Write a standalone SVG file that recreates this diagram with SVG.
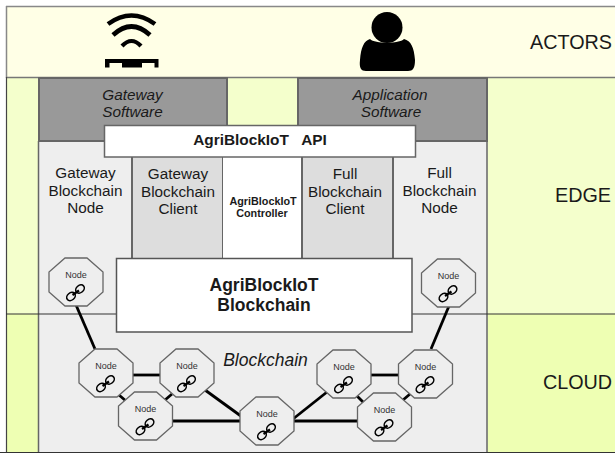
<svg xmlns="http://www.w3.org/2000/svg" width="615" height="453" viewBox="0 0 615 453">
<style>
text{font-family:"Liberation Sans",Arial,sans-serif;fill:#1a1a1a;text-anchor:middle}
.band{stroke:none}
.box{stroke:#666;stroke-width:2}
.oct{fill:#eee;stroke:#666;stroke-width:1.3}
.conn{stroke:#000;stroke-width:2.8;fill:none}
.lab{font-size:15.300px}
.it{font-size:15.300px;font-style:italic}
.side{font-size:19.800px}
.nt{font-size:9px;fill:#333}
.lk{fill:none;stroke:#000;stroke-width:1.600}
.ic{fill:#000;stroke:none}
.wf{fill:none;stroke:#000}
</style>
<defs>
<g id="n">
<polygon class="oct" points="16,0 38,0 54,14 54,34 38,48 16,48 0,34 0,14"/>
<g class="lk">
<ellipse cx="22" cy="38.500" rx="4.700" ry="3.600" transform="rotate(-40 22 38.500)"/>
<ellipse cx="31" cy="31" rx="4.700" ry="3.600" transform="rotate(-40 31 31)"/>
<path d="M23.500 37 L30 32.500" stroke-width="2.200"/>
</g>
</g>
</defs>
<rect width="615" height="453" fill="#fff"/>
<g id="bands">
<rect class="band" x="6" y="6" width="609" height="71" fill="#ffffe6"/>
<rect class="band" x="6" y="77" width="609" height="237" fill="#f4ffcc"/>
<rect class="band" x="6" y="314" width="609" height="138" fill="#eeffb3"/>
<path d="M6 6.500H615M6.500 6V78" stroke="#888" stroke-width="1.500" fill="none"/>
<path d="M6 77.500H615" stroke="#777" stroke-width="1.500"/>
<path d="M6.500 77V453" stroke="#444" stroke-width="1.200"/>
<text class="side" x="571" y="49">ACTORS</text>
<text class="side" x="583" y="202">EDGE</text>
<text class="side" x="577.500" y="389">CLOUD</text>
</g>
<g id="actor-gateway">
<g class="wf">
<path d="M108 24 Q131.500 7 155 24" stroke-width="4.600"/>
<path d="M113 35 Q131.500 18 150 35" stroke-width="4.600"/>
<path d="M122 46 Q131.500 36 141 46" stroke-width="4.200"/>
</g>
<path class="ic" d="M105 59H158.500V67.500H154.500V63H149V63H142V67.500H122V63H109.500V67.500H105Z"/>
</g>
<g id="actor-user">
<ellipse class="ic" cx="387" cy="27.500" rx="15.500" ry="15.500"/>
<path class="ic" d="M370 39C375 44 399 44 404 39C411 41 414 47 415 60C415 68 413 71 408 71H366C361 71 359 68 360 60C361 47 364 41 370 39Z"/>
</g>
<g id="edge-panel">
<rect x="38.500" y="141" width="449" height="311" fill="#eee"/>
<path d="M38.500 141V453M487 141V453" stroke="#666" stroke-width="1.500" fill="none"/>
<path d="M6 314H615" stroke="#333" stroke-width="1.200"/>
<path d="M0 452.500H615" stroke="#333" stroke-width="1.200"/>
<text class="lab" x="85.500" y="178">Gateway</text>
<text class="lab" x="85.500" y="196">Blockchain</text>
<text class="lab" x="85.500" y="213">Node</text>
<text class="lab" x="439.500" y="178">Full</text>
<text class="lab" x="439.500" y="196">Blockchain</text>
<text class="lab" x="439.500" y="213">Node</text>
<text class="it" x="265.500" y="366" style="font-size:17.500px">Blockchain</text>
</g>
<g id="gateway-software">
<rect class="box" x="39" y="78" width="188" height="63" fill="#999"/>
<text class="it" x="132.500" y="100">Gateway</text>
<text class="it" x="132.500" y="117">Software</text>
</g>
<g id="application-software">
<rect class="box" x="298" y="78" width="189" height="63" fill="#999"/>
<text class="it" x="390" y="100">Application</text>
<text class="it" x="391" y="117">Software</text>
</g>
<g id="gateway-client">
<rect class="box" x="132" y="156" width="91" height="103" fill="#ddd"/>
<text class="lab" x="178" y="179">Gateway</text>
<text class="lab" x="178" y="197">Blockchain</text>
<text class="lab" x="178" y="214">Client</text>
</g>
<g id="controller">
<rect x="223" y="156" width="79" height="103" fill="#fff"/>
<text x="263" y="205" font-size="10.800" font-weight="bold">AgriBlockIoT</text>
<text x="262" y="217" font-size="10.800" font-weight="bold">Controller</text>
</g>
<g id="full-client">
<rect class="box" x="302" y="156" width="91" height="103" fill="#ddd"/>
<text class="lab" x="345" y="179">Full</text>
<text class="lab" x="345" y="197">Blockchain</text>
<text class="lab" x="345" y="214">Client</text>
</g>
<g id="api">
<rect x="104.500" y="125.500" width="311" height="31.500" fill="#fff" stroke="#666" stroke-width="1.500"/>
<text x="260" y="145" font-size="15.400" font-weight="bold" xml:space="preserve" fill="#000">AgriBlockIoT   API</text>
</g>
<g id="blockchain">
<rect x="116.500" y="258.500" width="295.500" height="73.500" fill="#fff" stroke="#555" stroke-width="1.500"/>
<text x="264" y="291" font-size="17.500" font-weight="bold" fill="#000">AgriBlockIoT</text>
<text x="264" y="311" font-size="17.500" font-weight="bold" fill="#000">Blockchain</text>
</g>
<g id="connectors" class="conn">
<line x1="76" y1="305" x2="95" y2="349"/>
<line x1="130" y1="375" x2="162" y2="375"/>
<line x1="119" y1="395" x2="126" y2="401"/>
<line x1="172" y1="394" x2="165" y2="400"/>
<line x1="205" y1="390" x2="245" y2="419"/>
<line x1="171" y1="421" x2="241" y2="421"/>
<line x1="293" y1="419" x2="327" y2="392"/>
<line x1="293" y1="421" x2="358" y2="421"/>
<line x1="369" y1="375" x2="400" y2="375"/>
<line x1="357" y1="396" x2="363" y2="402"/>
<line x1="410" y1="394" x2="403" y2="400"/>
<line x1="449" y1="306" x2="431" y2="349"/>
</g>
<g id="node-1" transform="translate(49 258)"><use href="#n"/><text class="nt" x="27" y="20">Node</text></g>
<g id="node-2" transform="translate(421.500 259)"><use href="#n"/><text class="nt" x="27" y="20">Node</text></g>
<g id="node-3" transform="translate(79 349)"><use href="#n"/><text class="nt" x="27" y="20">Node</text></g>
<g id="node-4" transform="translate(160 349)"><use href="#n"/><text class="nt" x="27" y="20">Node</text></g>
<g id="node-5" transform="translate(118.500 392)"><use href="#n"/><text class="nt" x="27" y="20">Node</text></g>
<g id="node-6" transform="translate(240 397)"><use href="#n"/><text class="nt" x="27" y="20">Node</text></g>
<g id="node-7" transform="translate(317 350)"><use href="#n"/><text class="nt" x="27" y="20">Node</text></g>
<g id="node-8" transform="translate(398.500 350)"><use href="#n"/><text class="nt" x="27" y="20">Node</text></g>
<g id="node-9" transform="translate(357.500 393)"><use href="#n"/><text class="nt" x="27" y="20">Node</text></g>
</svg>
